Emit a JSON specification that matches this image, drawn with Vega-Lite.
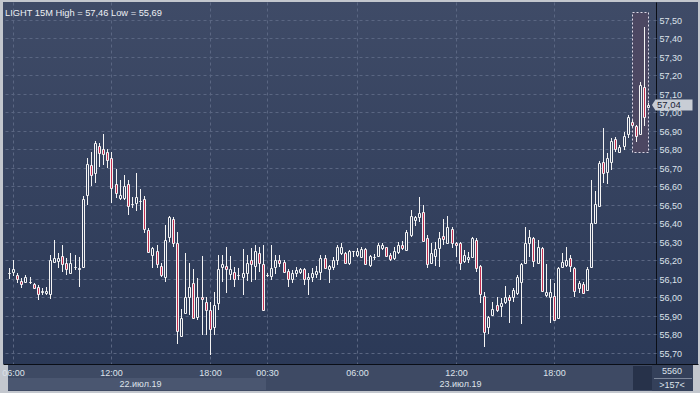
{
  "$schema": "https://vega.github.io/schema/vega-lite/v6.json",
  "width": 695,
  "height": 362,
  "autosize": {"type": "none"},
  "padding": {"left": 3, "top": 2, "right": 2, "bottom": 29},
  "background": "#c3c7ce",
  "title": {
    "text": "LIGHT 15M High = 57,46 Low = 55,69",
    "anchor": "start",
    "frame": "group",
    "orient": "top",
    "offset": -23,
    "dx": 2,
    "baseline": "alphabetic",
    "fontSize": 9.3,
    "font": "Liberation Sans",
    "fontWeight": "normal",
    "color": "#eceff4"
  },
  "config": {
    "view": {
      "stroke": null,
      "fill": {"gradient": "linear", "x1": 0, "y1": 0, "x2": 0, "y2": 1,
        "stops": [{"offset": 0, "color": "#3f4b67"}, {"offset": 1, "color": "#2b3957"}]}
    },
    "axis": {
      "labelFont": "Liberation Sans",
      "labelFontSize": 9,
      "labelColor": "#dde2ea",
      "title": null,
      "ticks": false,
      "labelOverlap": false,
      "labelBound": false,
      "labelFlush": false,
      "gridColor": "#5a6682",
      "gridDash": [3, 3],
      "gridWidth": 1,
      "domainColor": "#0a0e16",
      "domainWidth": 1
    }
  },
  "datasets": {
    "bars": [
      {"i":-1,"o":56.13,"h":56.16,"l":56.10,"c":56.13},
      {"i":0,"o":56.140,"h":56.203,"l":56.117,"c":56.153},
      {"i":1,"o":56.122,"h":56.135,"l":56.077,"c":56.099},
      {"i":2,"o":56.090,"h":56.104,"l":56.050,"c":56.072},
      {"i":3,"o":56.086,"h":56.122,"l":56.077,"c":56.110},
      {"i":4,"o":56.085,"h":56.113,"l":56.073,"c":56.085},
      {"i":5,"o":56.073,"h":56.081,"l":56.045,"c":56.050},
      {"i":6,"o":56.059,"h":56.068,"l":55.987,"c":56.019},
      {"i":7,"o":56.027,"h":56.050,"l":56.014,"c":56.037},
      {"i":8,"o":56.023,"h":56.059,"l":56.014,"c":56.037},
      {"i":9,"o":56.019,"h":56.230,"l":55.991,"c":56.203},
      {"i":10,"o":56.194,"h":56.311,"l":56.189,"c":56.212},
      {"i":11,"o":56.199,"h":56.239,"l":56.158,"c":56.212},
      {"i":12,"o":56.225,"h":56.284,"l":56.140,"c":56.182},
      {"i":13,"o":56.189,"h":56.212,"l":56.122,"c":56.153},
      {"i":14,"o":56.131,"h":56.239,"l":56.128,"c":56.189},
      {"i":15,"o":56.167,"h":56.230,"l":56.149,"c":56.167},
      {"i":16,"o":56.153,"h":56.221,"l":56.059,"c":56.162},
      {"i":17,"o":56.167,"h":56.546,"l":56.158,"c":56.533},
      {"i":18,"o":56.555,"h":56.753,"l":56.501,"c":56.722},
      {"i":19,"o":56.717,"h":56.789,"l":56.600,"c":56.663},
      {"i":20,"o":56.672,"h":56.848,"l":56.618,"c":56.834},
      {"i":21,"o":56.821,"h":56.834,"l":56.708,"c":56.783},
      {"i":22,"o":56.801,"h":56.884,"l":56.717,"c":56.774},
      {"i":23,"o":56.785,"h":56.801,"l":56.699,"c":56.744},
      {"i":24,"o":56.753,"h":56.789,"l":56.510,"c":56.591},
      {"i":25,"o":56.612,"h":56.693,"l":56.537,"c":56.564},
      {"i":26,"o":56.538,"h":56.636,"l":56.528,"c":56.553},
      {"i":27,"o":56.540,"h":56.663,"l":56.528,"c":56.603},
      {"i":28,"o":56.612,"h":56.636,"l":56.446,"c":56.492},
      {"i":29,"o":56.505,"h":56.542,"l":56.483,"c":56.504},
      {"i":30,"o":56.510,"h":56.675,"l":56.470,"c":56.542},
      {"i":31,"o":56.524,"h":56.585,"l":56.473,"c":56.524},
      {"i":32,"o":56.533,"h":56.546,"l":56.347,"c":56.369},
      {"i":33,"o":56.365,"h":56.378,"l":56.239,"c":56.248},
      {"i":34,"o":56.230,"h":56.275,"l":56.158,"c":56.266},
      {"i":35,"o":56.254,"h":56.284,"l":56.158,"c":56.182},
      {"i":36,"o":56.171,"h":56.185,"l":56.110,"c":56.119},
      {"i":37,"o":56.110,"h":56.392,"l":56.086,"c":56.311},
      {"i":38,"o":56.329,"h":56.441,"l":56.302,"c":56.434},
      {"i":39,"o":56.425,"h":56.434,"l":56.275,"c":56.293},
      {"i":40,"o":56.297,"h":56.356,"l":55.749,"c":55.821},
      {"i":41,"o":55.792,"h":55.937,"l":55.789,"c":55.888},
      {"i":42,"o":55.915,"h":56.239,"l":55.911,"c":56.001},
      {"i":43,"o":56.005,"h":56.189,"l":55.906,"c":56.059},
      {"i":44,"o":56.077,"h":56.153,"l":55.882,"c":55.888},
      {"i":45,"o":55.897,"h":56.104,"l":55.879,"c":56.005},
      {"i":46,"o":56.000,"h":56.225,"l":55.798,"c":55.992},
      {"i":47,"o":55.978,"h":56.005,"l":55.798,"c":55.933},
      {"i":48,"o":55.933,"h":55.973,"l":55.690,"c":55.828},
      {"i":49,"o":55.843,"h":56.032,"l":55.798,"c":55.960},
      {"i":50,"o":55.969,"h":56.230,"l":55.933,"c":56.153},
      {"i":51,"o":56.167,"h":56.230,"l":56.086,"c":56.182},
      {"i":52,"o":56.170,"h":56.275,"l":56.026,"c":56.152},
      {"i":53,"o":56.127,"h":56.224,"l":56.094,"c":56.152},
      {"i":54,"o":56.140,"h":56.163,"l":56.058,"c":56.098},
      {"i":55,"o":56.120,"h":56.158,"l":56.094,"c":56.120},
      {"i":56,"o":56.109,"h":56.260,"l":56.013,"c":56.131},
      {"i":57,"o":56.130,"h":56.230,"l":56.091,"c":56.188},
      {"i":58,"o":56.203,"h":56.266,"l":56.085,"c":56.179},
      {"i":59,"o":56.170,"h":56.284,"l":56.094,"c":56.251},
      {"i":60,"o":56.239,"h":56.275,"l":56.140,"c":56.188},
      {"i":61,"o":56.179,"h":56.284,"l":55.929,"c":55.932},
      {"i":62,"o":56.121,"h":56.130,"l":56.112,"c":56.121},
      {"i":63,"o":56.118,"h":56.284,"l":56.094,"c":56.158},
      {"i":64,"o":56.167,"h":56.230,"l":56.125,"c":56.203},
      {"i":65,"o":56.203,"h":56.230,"l":56.167,"c":56.188},
      {"i":66,"o":56.190,"h":56.203,"l":56.134,"c":56.140},
      {"i":67,"o":56.143,"h":56.152,"l":56.058,"c":56.098},
      {"i":68,"o":56.098,"h":56.149,"l":56.076,"c":56.130},
      {"i":69,"o":56.130,"h":56.163,"l":56.112,"c":56.148},
      {"i":70,"o":56.140,"h":56.158,"l":56.125,"c":56.154},
      {"i":71,"o":56.154,"h":56.158,"l":56.067,"c":56.098},
      {"i":72,"o":56.098,"h":56.130,"l":56.013,"c":56.112},
      {"i":73,"o":56.109,"h":56.158,"l":56.085,"c":56.130},
      {"i":74,"o":56.127,"h":56.170,"l":56.103,"c":56.145},
      {"i":75,"o":56.140,"h":56.230,"l":56.094,"c":56.212},
      {"i":76,"o":56.212,"h":56.230,"l":56.152,"c":56.158},
      {"i":77,"o":56.152,"h":56.176,"l":56.076,"c":56.170},
      {"i":78,"o":56.167,"h":56.217,"l":56.149,"c":56.203},
      {"i":79,"o":56.203,"h":56.284,"l":56.176,"c":56.275},
      {"i":80,"o":56.242,"h":56.296,"l":56.230,"c":56.275},
      {"i":81,"o":56.242,"h":56.248,"l":56.185,"c":56.188},
      {"i":82,"o":56.188,"h":56.257,"l":56.176,"c":56.253},
      {"i":83,"o":56.251,"h":56.253,"l":56.221,"c":56.251},
      {"i":84,"o":56.230,"h":56.266,"l":56.221,"c":56.251},
      {"i":85,"o":56.221,"h":56.275,"l":56.217,"c":56.260},
      {"i":86,"o":56.260,"h":56.266,"l":56.176,"c":56.179},
      {"i":87,"o":56.176,"h":56.230,"l":56.163,"c":56.224},
      {"i":88,"o":56.221,"h":56.235,"l":56.203,"c":56.221},
      {"i":89,"o":56.224,"h":56.293,"l":56.217,"c":56.284},
      {"i":90,"o":56.269,"h":56.296,"l":56.257,"c":56.284},
      {"i":91,"o":56.271,"h":56.275,"l":56.221,"c":56.224},
      {"i":92,"o":56.230,"h":56.239,"l":56.199,"c":56.208},
      {"i":93,"o":56.212,"h":56.275,"l":56.203,"c":56.253},
      {"i":94,"o":56.248,"h":56.302,"l":56.235,"c":56.284},
      {"i":95,"o":56.284,"h":56.305,"l":56.257,"c":56.269},
      {"i":96,"o":56.257,"h":56.365,"l":56.253,"c":56.356},
      {"i":97,"o":56.338,"h":56.473,"l":56.329,"c":56.440},
      {"i":98,"o":56.419,"h":56.440,"l":56.386,"c":56.433},
      {"i":99,"o":56.437,"h":56.545,"l":56.410,"c":56.455},
      {"i":100,"o":56.460,"h":56.500,"l":56.302,"c":56.307},
      {"i":101,"o":56.320,"h":56.338,"l":56.158,"c":56.179},
      {"i":102,"o":56.188,"h":56.296,"l":56.185,"c":56.242},
      {"i":103,"o":56.224,"h":56.302,"l":56.170,"c":56.260},
      {"i":104,"o":56.266,"h":56.356,"l":56.167,"c":56.320},
      {"i":105,"o":56.332,"h":56.422,"l":56.284,"c":56.314},
      {"i":106,"o":56.296,"h":56.440,"l":56.293,"c":56.379},
      {"i":107,"o":56.368,"h":56.383,"l":56.266,"c":56.296},
      {"i":108,"o":56.296,"h":56.302,"l":56.221,"c":56.282},
      {"i":109,"o":56.296,"h":56.302,"l":56.149,"c":56.188},
      {"i":110,"o":56.197,"h":56.257,"l":56.185,"c":56.230},
      {"i":111,"o":56.208,"h":56.248,"l":56.188,"c":56.221},
      {"i":112,"o":56.221,"h":56.329,"l":56.212,"c":56.323},
      {"i":113,"o":56.311,"h":56.320,"l":56.140,"c":56.158},
      {"i":114,"o":56.170,"h":56.176,"l":55.968,"c":56.019},
      {"i":115,"o":56.008,"h":56.031,"l":55.734,"c":55.815},
      {"i":116,"o":55.839,"h":55.900,"l":55.803,"c":55.893},
      {"i":117,"o":55.908,"h":55.977,"l":55.900,"c":55.936},
      {"i":118,"o":55.959,"h":56.004,"l":55.923,"c":55.932},
      {"i":119,"o":55.954,"h":55.995,"l":55.896,"c":55.968},
      {"i":120,"o":55.977,"h":56.062,"l":55.965,"c":56.001},
      {"i":121,"o":56.004,"h":56.013,"l":55.860,"c":55.986},
      {"i":122,"o":56.001,"h":56.049,"l":55.977,"c":56.040},
      {"i":123,"o":56.022,"h":56.121,"l":56.013,"c":56.109},
      {"i":124,"o":56.085,"h":56.185,"l":55.857,"c":56.181},
      {"i":125,"o":56.188,"h":56.383,"l":56.185,"c":56.296},
      {"i":126,"o":56.296,"h":56.365,"l":56.221,"c":56.329},
      {"i":127,"o":56.320,"h":56.325,"l":56.167,"c":56.199},
      {"i":128,"o":56.188,"h":56.311,"l":56.185,"c":56.271},
      {"i":129,"o":56.266,"h":56.275,"l":56.031,"c":56.037},
      {"i":130,"o":56.013,"h":56.181,"l":56.004,"c":56.028},
      {"i":131,"o":56.001,"h":56.098,"l":55.864,"c":56.031},
      {"i":132,"o":56.008,"h":56.080,"l":55.875,"c":55.878},
      {"i":133,"o":55.887,"h":56.163,"l":55.885,"c":56.158},
      {"i":134,"o":56.167,"h":56.242,"l":56.158,"c":56.190},
      {"i":135,"o":56.176,"h":56.275,"l":56.163,"c":56.203},
      {"i":136,"o":56.212,"h":56.230,"l":56.140,"c":56.170},
      {"i":137,"o":56.158,"h":56.163,"l":56.004,"c":56.037},
      {"i":138,"o":56.050,"h":56.091,"l":56.022,"c":56.076},
      {"i":139,"o":56.073,"h":56.085,"l":56.022,"c":56.026},
      {"i":140,"o":56.040,"h":56.163,"l":56.037,"c":56.152},
      {"i":141,"o":56.167,"h":56.636,"l":56.164,"c":56.401},
      {"i":142,"o":56.405,"h":56.573,"l":56.398,"c":56.506},
      {"i":143,"o":56.495,"h":56.740,"l":56.490,"c":56.729},
      {"i":144,"o":56.731,"h":56.915,"l":56.618,"c":56.675},
      {"i":145,"o":56.681,"h":56.780,"l":56.614,"c":56.753},
      {"i":146,"o":56.735,"h":56.861,"l":56.690,"c":56.846},
      {"i":147,"o":56.855,"h":56.866,"l":56.789,"c":56.801},
      {"i":148,"o":56.789,"h":56.825,"l":56.783,"c":56.812},
      {"i":149,"o":56.819,"h":56.897,"l":56.798,"c":56.873},
      {"i":150,"o":56.884,"h":56.987,"l":56.861,"c":56.975},
      {"i":151,"o":56.950,"h":56.960,"l":56.924,"c":56.932},
      {"i":152,"o":56.927,"h":56.932,"l":56.842,"c":56.873},
      {"i":153,"o":56.884,"h":57.167,"l":56.878,"c":57.149},
      {"i":154,"o":57.136,"h":57.460,"l":56.927,"c":56.977},
      {"i":155,"o":57.030,"h":57.050,"l":57.030,"c":57.040}
    ]
  },
  "layer": [
    {
      "data": {"values": [{"part": "axis band"}]},
      "mark": {"type": "rect", "fill": "#3e4a64"},
      "encoding": {
        "x": {"datum": -1.251, "type": "quantitative", "scale": {"domain": [-1.251, 165.94], "nice": false, "zero": false, "round": true}, "axis": null},
        "x2": {"datum": 165.94},
        "y": {"datum": 55.6405, "type": "quantitative", "scale": {"domain": [55.6405, 57.5973], "nice": false, "zero": false, "round": true}, "axis": null},
        "y2": {"datum": 55.4946}
      }
    },
    {
      "data": {"values": [{"part": "day band"}]},
      "mark": {"type": "rect", "fill": "#4a5670"},
      "encoding": {
        "x": {"datum": -1.251, "type": "quantitative", "scale": {"domain": [-1.251, 165.94], "nice": false, "zero": false, "round": true}, "axis": null},
        "x2": {"datum": 61.77},
        "y": {"datum": 55.5648, "type": "quantitative", "scale": {"domain": [55.6405, 57.5973], "nice": false, "zero": false, "round": true}, "axis": null},
        "y2": {"datum": 55.4999}
      }
    },
    {
      "data": {"values": [{"part": "dark block"}]},
      "mark": {"type": "rect", "fill": "#27324a"},
      "encoding": {
        "x": {"datum": 151.27, "type": "quantitative", "scale": {"domain": [-1.251, 165.94], "nice": false, "zero": false, "round": true}, "axis": null},
        "x2": {"datum": 155.83},
        "y": {"datum": 55.6297, "type": "quantitative", "scale": {"domain": [55.6405, 57.5973], "nice": false, "zero": false, "round": true}, "axis": null},
        "y2": {"datum": 55.4999}
      }
    },
    {
      "data": {"values": [{"part": "corner"}]},
      "mark": {"type": "rect", "fill": "#34405a"},
      "encoding": {
        "x": {"datum": 155.83, "type": "quantitative", "scale": {"domain": [-1.251, 165.94], "nice": false, "zero": false, "round": true}, "axis": null},
        "x2": {"datum": 165.94},
        "y": {"datum": 55.6405, "type": "quantitative", "scale": {"domain": [55.6405, 57.5973], "nice": false, "zero": false, "round": true}, "axis": null},
        "y2": {"datum": 55.4946}
      }
    },
    {
      "data": {"values": [{"part": "corner rule"}]},
      "mark": {"type": "rule", "color": "#7d879b", "strokeWidth": 1, "yOffset": 0.5},
      "encoding": {
        "x": {"datum": 156.3, "type": "quantitative", "scale": {"domain": [-1.251, 165.94], "nice": false, "zero": false, "round": true}, "axis": null},
        "x2": {"datum": 165.7},
        "y": {"datum": 55.566, "type": "quantitative", "scale": {"domain": [55.6405, 57.5973], "nice": false, "zero": false, "round": true}, "axis": null}
      }
    },
    {
      "data": {"values": [{"from": 151, "to": 155, "hi": 57.545, "lo": 56.785}]},
      "mark": {"type": "rect", "fill": "#4c4762", "stroke": "#ddd8e6", "strokeDash": [2, 2], "strokeWidth": 1, "xOffset": 0.5, "x2Offset": 0.5, "yOffset": 0.5, "y2Offset": 0.5},
      "encoding": {
        "x": {"field": "from", "type": "quantitative",
          "scale": {"domain": [-1.251, 165.94], "nice": false, "zero": false, "round": true},
          "axis": {"orient": "bottom", "values": [31, 109], "grid": false, "domain": false, "labelPadding": 15, "zindex": 1,
            "labelExpr": "datum.value < 70 ? '22.июл.19' : '23.июл.19'"}},
        "x2": {"field": "to"},
        "y": {"field": "hi", "type": "quantitative",
          "scale": {"domain": [55.6405, 57.5973], "nice": false, "zero": false, "round": true},
          "axis": {"orient": "right", "offset": -42, "values": [55.7, 55.8, 55.9, 56.0, 56.1, 56.2, 56.3, 56.4, 56.5, 56.6, 56.7, 56.8, 56.9, 57.0, 57.1, 57.2, 57.3, 57.4, 57.5],
            "grid": false, "domain": true, "labelPadding": 3, "zindex": 0,
            "labelExpr": "replace(format(datum.value, '.2f'), '.', ',')"}},
        "y2": {"field": "lo"}
      }
    },
    {
      "data": {"name": "bars"},
      "mark": {"type": "rule", "color": "#f4f4f4", "strokeWidth": 1, "xOffset": 0.5},
      "encoding": {
        "x": {"field": "i", "type": "quantitative",
          "scale": {"domain": [-1.251, 165.94], "nice": false, "zero": false, "round": true},
          "axis": {"orient": "bottom", "values": [0, 24, 48, 62, 84, 108, 132], "grid": true, "domain": false, "labels": false, "zindex": 0}},
        "y": {"field": "l", "type": "quantitative",
          "scale": {"domain": [55.6405, 57.5973], "nice": false, "zero": false, "round": true},
          "axis": {"orient": "right", "offset": -42, "values": [55.7, 55.8, 55.9, 56.0, 56.1, 56.2, 56.3, 56.4, 56.5, 56.6, 56.7, 56.8, 56.9, 57.0, 57.1, 57.2, 57.3, 57.4, 57.5],
            "grid": false, "domain": false, "labels": false, "ticks": true, "tickSize": -653,
            "tickColor": "#5a6682", "tickDash": [3, 3], "tickWidth": 1, "zindex": 0}},
        "y2": {"field": "h"}
      }
    },
    {
      "data": {"name": "bars"},
      "mark": {"type": "bar", "width": 2, "stroke": "#f4f4f4", "strokeWidth": 1, "xOffset": 0.5, "yOffset": 0.5, "y2Offset": 0.5},
      "encoding": {
        "x": {"field": "i", "type": "quantitative",
          "scale": {"domain": [-1.251, 165.94], "nice": false, "zero": false, "round": true},
          "axis": {"orient": "bottom", "values": [0, 24, 48, 62, 84, 108, 132], "grid": false, "domain": true, "labelPadding": 4, "zindex": 1,
            "labelExpr": "datum.value == 0 ? '06:00' : datum.value == 24 ? '12:00' : datum.value == 48 ? '18:00' : datum.value == 62 ? '00:30' : datum.value == 84 ? '06:00' : datum.value == 108 ? '12:00' : '18:00'"}},
        "y": {"field": "o", "type": "quantitative",
          "scale": {"domain": [55.6405, 57.5973], "nice": false, "zero": false, "round": true}, "axis": null},
        "y2": {"field": "c"},
        "fill": {
          "field": "c", "type": "quantitative",
          "scale": {"domain": [55.6405, 57.5973], "range": ["#2b3957", "#3f4b67"]},
          "legend": null,
          "condition": {"test": "datum.c < datum.o", "value": "#c32f51"}
        }
      }
    },
    {
      "data": {"values": [{"price": 57.04, "label": "57,04"}]},
      "mark": {"type": "point", "shape": "M-1.19,0 L-1,-0.3 L1,-0.3 L1,0.3 L-1,0.3 Z", "filled": true, "fill": "#c8cdd5", "opacity": 1, "size": 1369},
      "encoding": {
        "x": {"datum": 161.25, "type": "quantitative", "scale": {"domain": [-1.251, 165.94], "nice": false, "zero": false, "round": true}, "axis": null},
        "y": {"field": "price", "type": "quantitative", "scale": {"domain": [55.6405, 57.5973], "nice": false, "zero": false, "round": true}, "axis": null}
      }
    },
    {
      "data": {"values": [{"price": 57.04, "label": "57,04"}]},
      "mark": {"type": "text", "align": "left", "baseline": "middle", "dx": -17, "font": "Liberation Sans", "fontSize": 9.5, "color": "#1c2536"},
      "encoding": {
        "x": {"datum": 161.25, "type": "quantitative", "scale": {"domain": [-1.251, 165.94], "nice": false, "zero": false, "round": true}, "axis": null},
        "y": {"field": "price", "type": "quantitative", "scale": {"domain": [55.6405, 57.5973], "nice": false, "zero": false, "round": true}, "axis": null},
        "text": {"field": "label"}
      }
    },
    {
      "data": {"values": [{"t": "5560", "row": 55.6}, {"t": ">157<", "row": 55.527}]},
      "mark": {"type": "text", "align": "center", "baseline": "middle", "font": "Liberation Sans", "fontSize": 9, "color": "#dde2ea"},
      "encoding": {
        "x": {"datum": 160.9, "type": "quantitative", "scale": {"domain": [-1.251, 165.94], "nice": false, "zero": false, "round": true}, "axis": null},
        "y": {"field": "row", "type": "quantitative", "scale": {"domain": [55.6405, 57.5973], "nice": false, "zero": false, "round": true}, "axis": null},
        "text": {"field": "t"}
      }
    }
  ],
  "resolve": {"axis": {"x": "independent", "y": "independent"}}
}
